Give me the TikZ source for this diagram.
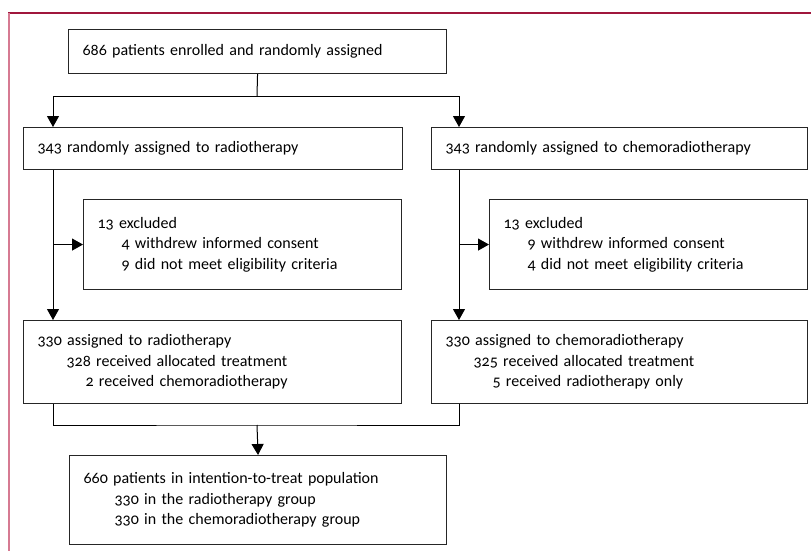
\documentclass[tikz,border=0pt]{standalone}
\usepackage{fontspec}
\setmainfont{Carlito}[Numbers=OldStyle]
\usetikzlibrary{arrows.meta}
\definecolor{framered}{RGB}{160,22,60}
\definecolor{framepink}{RGB}{214,122,146}
\newcommand{\subline}[1]{\\\hspace*{#1}}
\tikzset{
	box/.style={draw=black!85, line width=1.1pt, anchor=north west, align=left,
		inner xsep=14pt, inner ysep=0pt, text width=#1,
		font=\fontsize{16}{20.5}\selectfont},
	link/.style={line width=1pt},
	arrow/.style={link, -{Triangle[width=12pt,length=11pt]}},
}
\begin{document}
\begin{tikzpicture}[x=1pt,y=-1pt]
	\useasboundingbox (0,0) rectangle (811,551);
	\draw [framered, line width=1.4pt] (8,13) -- (811,13);
	\draw [framepink, line width=1.4pt] (9,13) -- (9,551);
	% boxes
	\node [box=350pt, minimum height=44pt] (top) at (68,29) {686 patients enrolled and randomly assigned};
	\node [box=351pt, minimum height=42pt] (radio) at (23,127) {343 randomly assigned to radiotherapy};
	\node [box=348pt, minimum height=42pt] (chemo) at (431,127) {343 randomly assigned to chemoradiotherapy};
	\node [box=290pt, minimum height=90pt] (exclR) at (83,199) {13 excluded\subline{24pt}4 withdrew informed consent\subline{24pt}9 did not meet eligibility criteria};
	\node [box=290pt, minimum height=90pt] (exclC) at (489,199) {13 excluded\subline{24pt}9 withdrew informed consent\subline{24pt}4 did not meet eligibility criteria};
	\node [box=350pt, minimum height=83pt] (assR) at (23,320) {330 assigned to radiotherapy\subline{29pt}328 received allocated treatment\subline{48pt}2 received chemoradiotherapy};
	\node [box=348pt, minimum height=83pt] (assC) at (431,320) {330 assigned to chemoradiotherapy\subline{28pt}325 received allocated treatment\subline{47pt}5 received radiotherapy only};
	\node [box=349pt, minimum height=89pt] (itt) at (69,455) {660 patients in intention-to-treat population\subline{31pt}330 in the radiotherapy group\subline{31pt}330 in the chemoradiotherapy group};
	% connectors
	\coordinate (fork) at (257,96);
	\coordinate (merge) at (257,425);
	\coordinate (lcol) at (53,0);
	\coordinate (rcol) at (459,0);
	\draw [link] (top.south) -- (fork);
	\draw [link] (lcol |- fork) -- (rcol |- fork);
	\draw [arrow] (lcol |- fork) -- (lcol |- radio.north);
	\draw [arrow] (rcol |- fork) -- (rcol |- chemo.north);
	\draw [arrow] (lcol |- radio.south) -- (lcol |- assR.north);
	\draw [arrow] (rcol |- chemo.south) -- (rcol |- assC.north);
	\draw [arrow] (lcol |- exclR.west) -- (exclR.west);
	\draw [arrow] (rcol |- exclC.west) -- (exclC.west);
	\draw [link] (lcol |- assR.south) |- (merge) -| (rcol |- assC.south);
	\draw [arrow] (merge) -- (itt.north);
\end{tikzpicture}
\end{document}
